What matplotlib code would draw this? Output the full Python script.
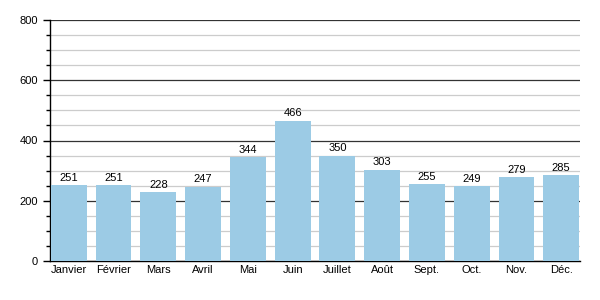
import matplotlib.pyplot as plt
import numpy as np

months = ["Janvier", "Février", "Mars", "Avril", "Mai", "Juin",
          "Juillet", "Août", "Sept.", "Oct.", "Nov.", "Déc."]
values = [251, 251, 228, 247, 344, 466, 350, 303, 255, 249, 279, 285]

plt.rcParams['font.family'] = ['Liberation Sans', 'DejaVu Sans']

fig = plt.figure(figsize=(6, 3), dpi=100)
ax = fig.add_axes([50/600, 1 - 261/300, 530/600, 241/300])

x = np.arange(len(months))
ax.bar(x, values, width=0.8, color='#9ccbe5', zorder=3)
for xi, v in zip(x, values):
    ax.text(xi, v + 8, str(v), ha='center', va='bottom', fontsize=8, zorder=4)

ax.set_xlim(-0.42, 11.42)
ax.set_ylim(0, 800)
ax.set_yticks(range(0, 801, 200))
ax.set_yticks(range(0, 801, 50), minor=True)
ax.grid(axis='y', which='major', color='#333333', linewidth=0.9, zorder=1)
ax.grid(axis='y', which='minor', color='#cccccc', linewidth=0.9, zorder=0)
ax.set_xticks(x)
ax.set_xticklabels(months)
ax.tick_params(axis='x', length=0, labelsize=8, pad=3)
ax.tick_params(axis='y', which='major', length=5, labelsize=8, width=1)
ax.tick_params(axis='y', which='minor', length=3, width=1)
for s in ['top', 'right']:
    ax.spines[s].set_visible(False)
ax.spines['left'].set_linewidth(1)
ax.spines['bottom'].set_linewidth(1)

fig.savefig('out.png', dpi=100)
